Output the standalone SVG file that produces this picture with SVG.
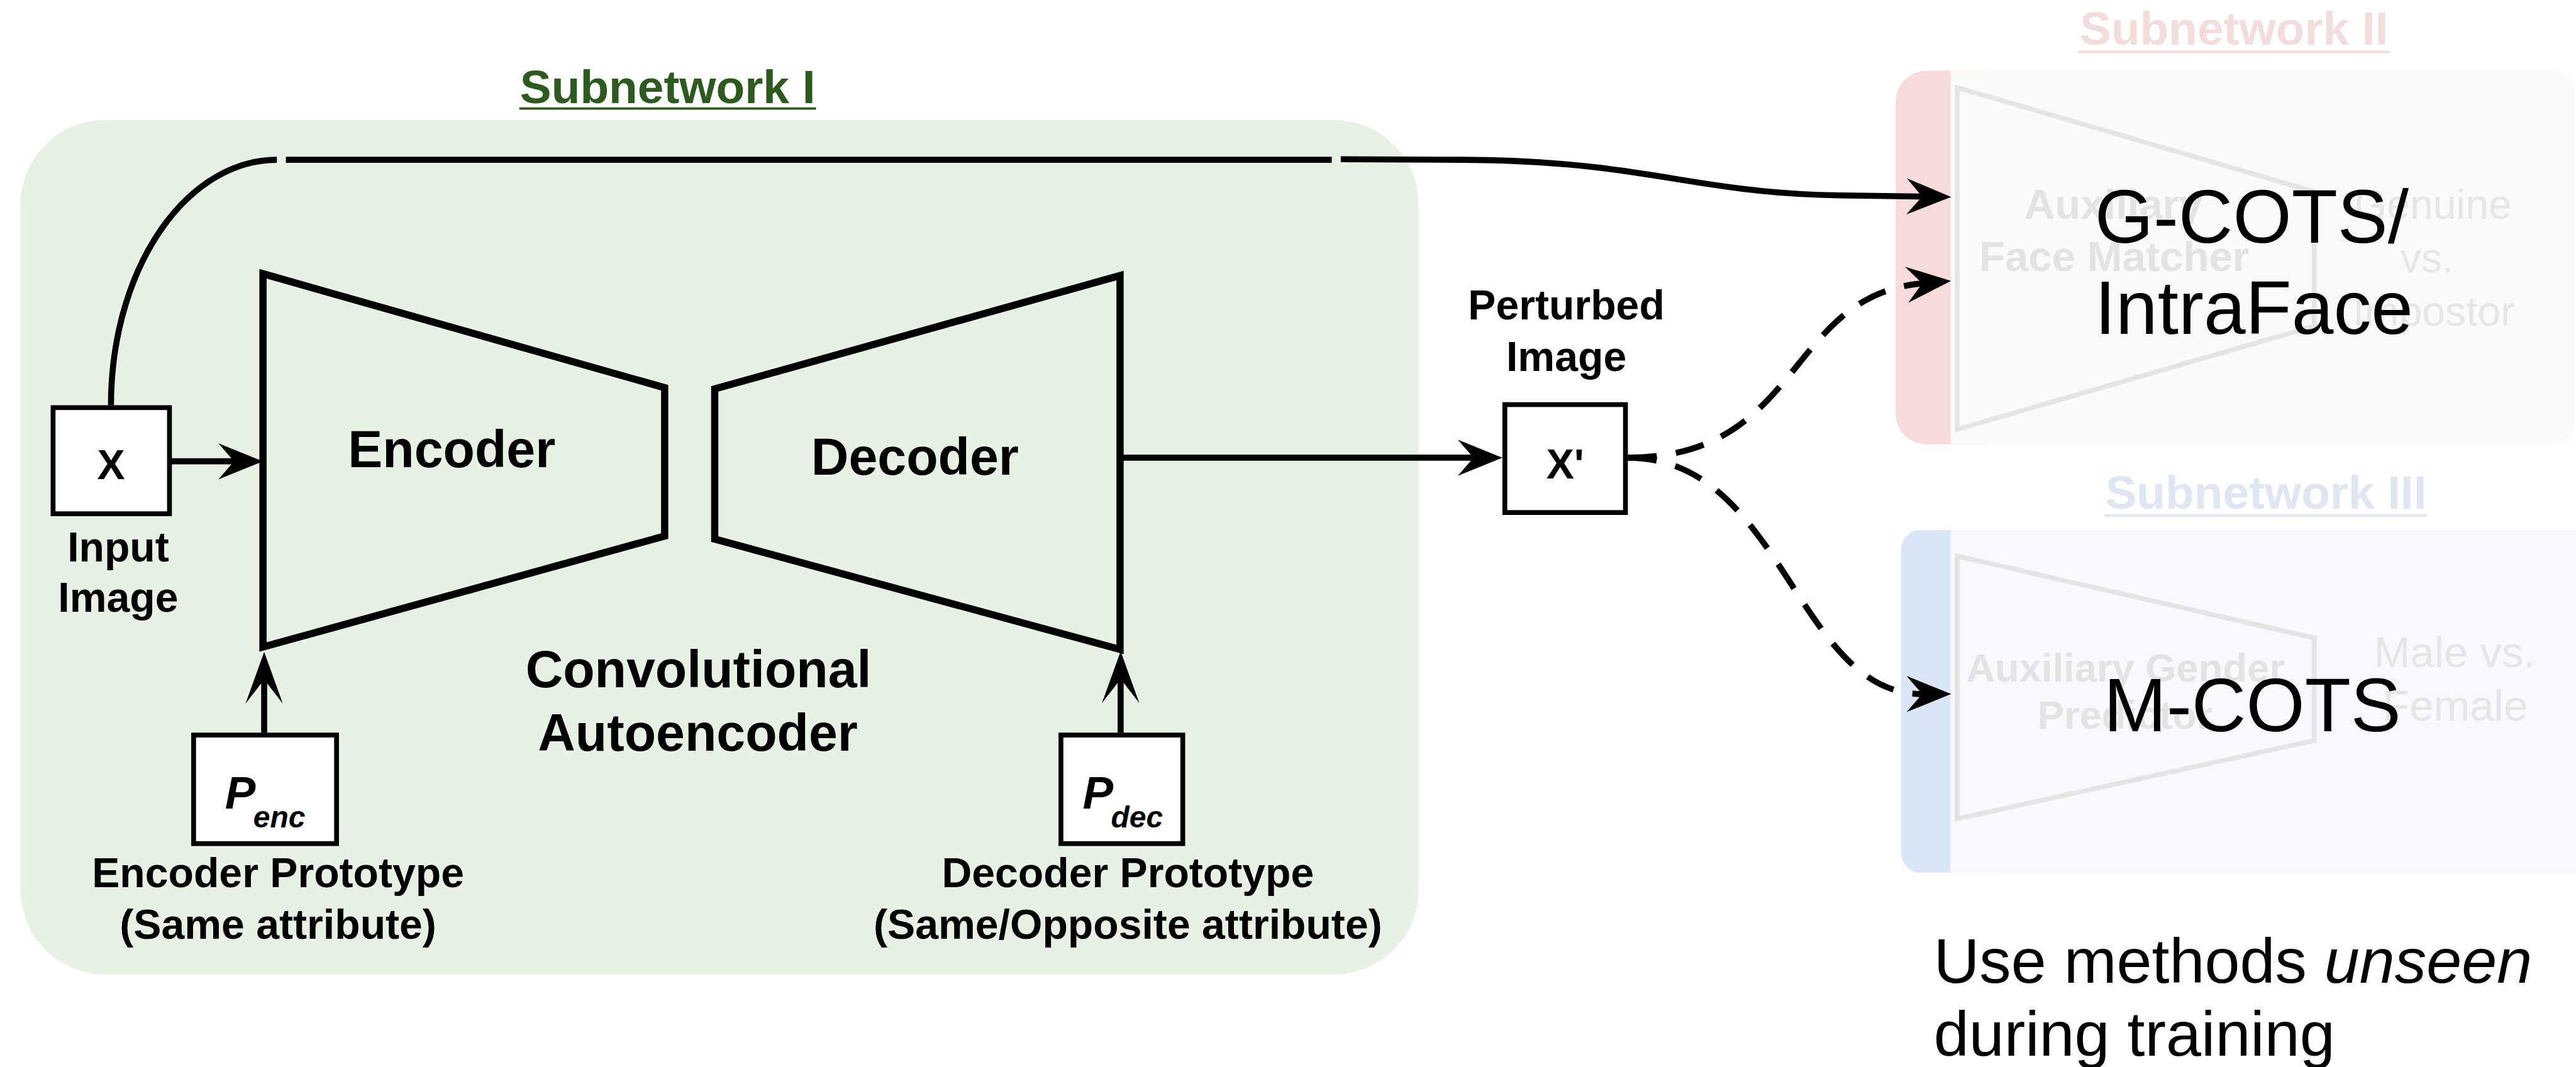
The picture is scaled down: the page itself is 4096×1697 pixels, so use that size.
<svg xmlns="http://www.w3.org/2000/svg" width="4096" height="1697" viewBox="0 0 4096 1697">
  <defs>
    <style>
      text { font-family: "Liberation Sans", Arial, Helvetica, sans-serif; }
      .lbl { font-weight: bold; font-size: 69px; text-anchor: middle; fill: #000; }
      .big { font-weight: bold; font-size: 86px; text-anchor: middle; fill: #000; }
      .title { font-weight: bold; font-size: 78px; text-anchor: middle; }
      .box { fill: #fff; stroke: #000; stroke-width: 8; }
      .trap { fill: none; stroke: #000; stroke-width: 12; }
      .ghost { fill: none; stroke: #e5e5e5; stroke-width: 8; }
      .ghost-b { font-weight: bold; fill: #e3e3e3; text-anchor: middle; }
      .ghost-r { fill: #e6e6e6; text-anchor: middle; }
      .tool { font-size: 125px; fill: #000; }
      .note { font-size: 105px; fill: #000; }
      .sym { font-weight: bold; font-style: italic; fill: #000; }
      .conn { fill: none; stroke: #000; stroke-width: 10; }
      .dash { stroke-dasharray: 48 32; }
    </style>
    <marker id="arrow" markerUnits="userSpaceOnUse" markerWidth="1" markerHeight="1" refX="0" refY="0" orient="auto" overflow="visible">
      <path d="M48,0 L-26,-30 L0,0 L-26,30 Z" fill="#000"/>
    </marker>
    <marker id="arrowTall" markerUnits="userSpaceOnUse" markerWidth="1" markerHeight="1" refX="0" refY="0" orient="auto" overflow="visible">
      <path d="M46,0 L-40,-31 L0,0 L-40,31 Z" fill="#000"/>
    </marker>
  </defs>

  <rect x="0" y="0" width="4096" height="1697" fill="#fff"/>

  <g transform="scale(0.95903)">
    <!-- Subnetwork I: convolutional autoencoder panel -->
    <g id="subnetwork1">
      <rect x="34" y="199" width="2318" height="1417" rx="140" ry="140" fill="#e7f1e4"/>
      <text class="title" x="1107" y="171" fill="#2d5a1e">Subnetwork I</text>
      <line x1="861" y1="180" x2="1353" y2="180" stroke="#2d5a1e" stroke-width="4"/>
      <text class="big" x="1158" y="1140">Convolutional</text>
      <text class="big" x="1157" y="1245">Autoencoder</text>
    </g>

    <g id="input-image">
      <rect class="box" x="88" y="676" width="193" height="176"/>
      <text class="lbl" x="184" y="795" font-size="72">X</text>
      <text class="lbl" x="196" y="931">Input</text>
      <text class="lbl" x="196" y="1015">Image</text>
    </g>

    <g id="encoder">
      <polygon class="trap" points="436,454 1102,643 1102,889 436,1073"/>
      <text class="big" x="749" y="775">Encoder</text>
    </g>

    <g id="decoder">
      <polygon class="trap" points="1185,645 1857,457 1857,1077 1185,894"/>
      <text class="big" x="1517" y="787">Decoder</text>
    </g>

    <g id="encoder-prototype">
      <rect class="box" x="321" y="1219" width="237" height="180"/>
      <text class="sym" x="373" y="1341" font-size="76">P<tspan x="420" y="1372" font-size="50">enc</tspan></text>
      <text class="lbl" x="461" y="1471">Encoder Prototype</text>
      <text class="lbl" x="461" y="1557">(Same attribute)</text>
    </g>

    <g id="decoder-prototype">
      <rect class="box" x="1759" y="1219" width="202" height="180"/>
      <text class="sym" x="1795" y="1341" font-size="76">P<tspan x="1842" y="1372" font-size="50">dec</tspan></text>
      <text class="lbl" x="1870" y="1471">Decoder Prototype</text>
      <text class="lbl" x="1870" y="1557">(Same/Opposite attribute)</text>
    </g>

    <g id="perturbed-image">
      <rect class="box" x="2495" y="671" width="200" height="179"/>
      <text class="lbl" x="2595" y="793" font-size="72">X'</text>
      <text class="lbl" x="2597" y="530">Perturbed</text>
      <text class="lbl" x="2597" y="615">Image</text>
    </g>

    <!-- Subnetwork II: face matcher (faded) with tool label on top -->
    <g id="subnetwork2">
      <text class="title" x="3704" y="74" fill="#f3dcdc">Subnetwork II</text>
      <line x1="3446" y1="86" x2="3962" y2="86" stroke="#f3dcdc" stroke-width="4"/>
      <rect x="3143" y="117" width="200" height="620" rx="52" ry="52" fill="#f6dbdb"/>
      <path d="M3234,117 H4225 Q4270,117 4270,162 V692 Q4270,737 4225,737 H3234 Z" fill="#fbfaf9"/>
      <polygon class="ghost" points="3245,145 3837,318 3837,541 3245,712"/>
      <text class="ghost-b" x="3504" y="363" font-size="70">Auxiliary</text>
      <text class="ghost-b" x="3505" y="449" font-size="70">Face Matcher</text>
      <text class="ghost-r" x="4034" y="363" font-size="69">Genuine</text>
      <text class="ghost-r" x="4024" y="451" font-size="69">vs.</text>
      <text class="ghost-r" x="4035" y="540" font-size="69">Impostor</text>
      <text class="tool" x="3473" y="403">G-COTS/</text>
      <text class="tool" x="3473" y="554">IntraFace</text>
    </g>

    <!-- Subnetwork III: gender predictor (faded) with tool label on top -->
    <g id="subnetwork3">
      <text class="title" x="3757" y="844" fill="#dfe6f1">Subnetwork III</text>
      <line x1="3490" y1="855" x2="4024" y2="855" stroke="#dfe6f1" stroke-width="4"/>
      <rect x="3152" y="879" width="200" height="568" rx="32" ry="32" fill="#dae5f8"/>
      <rect x="3234" y="879" width="1100" height="568" fill="#f8f9fc"/>
      <polygon class="ghost" points="3245,922 3837,1058 3837,1228 3245,1358"/>
      <text class="ghost-b" x="3524" y="1130" font-size="66">Auxiliary Gender</text>
      <text class="ghost-b" x="3523" y="1208" font-size="66">Predictor</text>
      <text class="ghost-r" x="4070" y="1106" font-size="72">Male vs.</text>
      <text class="ghost-r" x="4071" y="1195" font-size="72">Female</text>
      <text class="tool" x="3488" y="1213">M-COTS</text>
    </g>

    <g id="note">
      <text class="note" x="3206" y="1630">Use methods <tspan font-style="italic">unseen</tspan></text>
      <text class="note" x="3206" y="1751">during training</text>
    </g>

    <!-- connectors -->
    <g id="connectors">
      <path class="conn" marker-end="url(#arrow)" d="M184,672 A275,407 0 0 1 459,265 M474,265 H2208 M2223,264 L2420,265 C2730,266 2800,320 3050,324 L3187,326"/>
      <path class="conn" marker-end="url(#arrow)" d="M281,765 H388"/>
      <path class="conn" marker-end="url(#arrowTall)" d="M438,1215 V1127"/>
      <path class="conn" marker-end="url(#arrowTall)" d="M1858,1215 V1126"/>
      <path class="conn" marker-end="url(#arrow)" d="M1857,759 H2443"/>
      <path class="conn dash" marker-end="url(#arrow)" d="M2699,759 C2990,759 2960,490 3187,470"/>
      <path class="conn dash" marker-end="url(#arrow)" d="M2699,759 C2956,759 2978,1151 3187,1151"/>
    </g>
  </g>
</svg>
